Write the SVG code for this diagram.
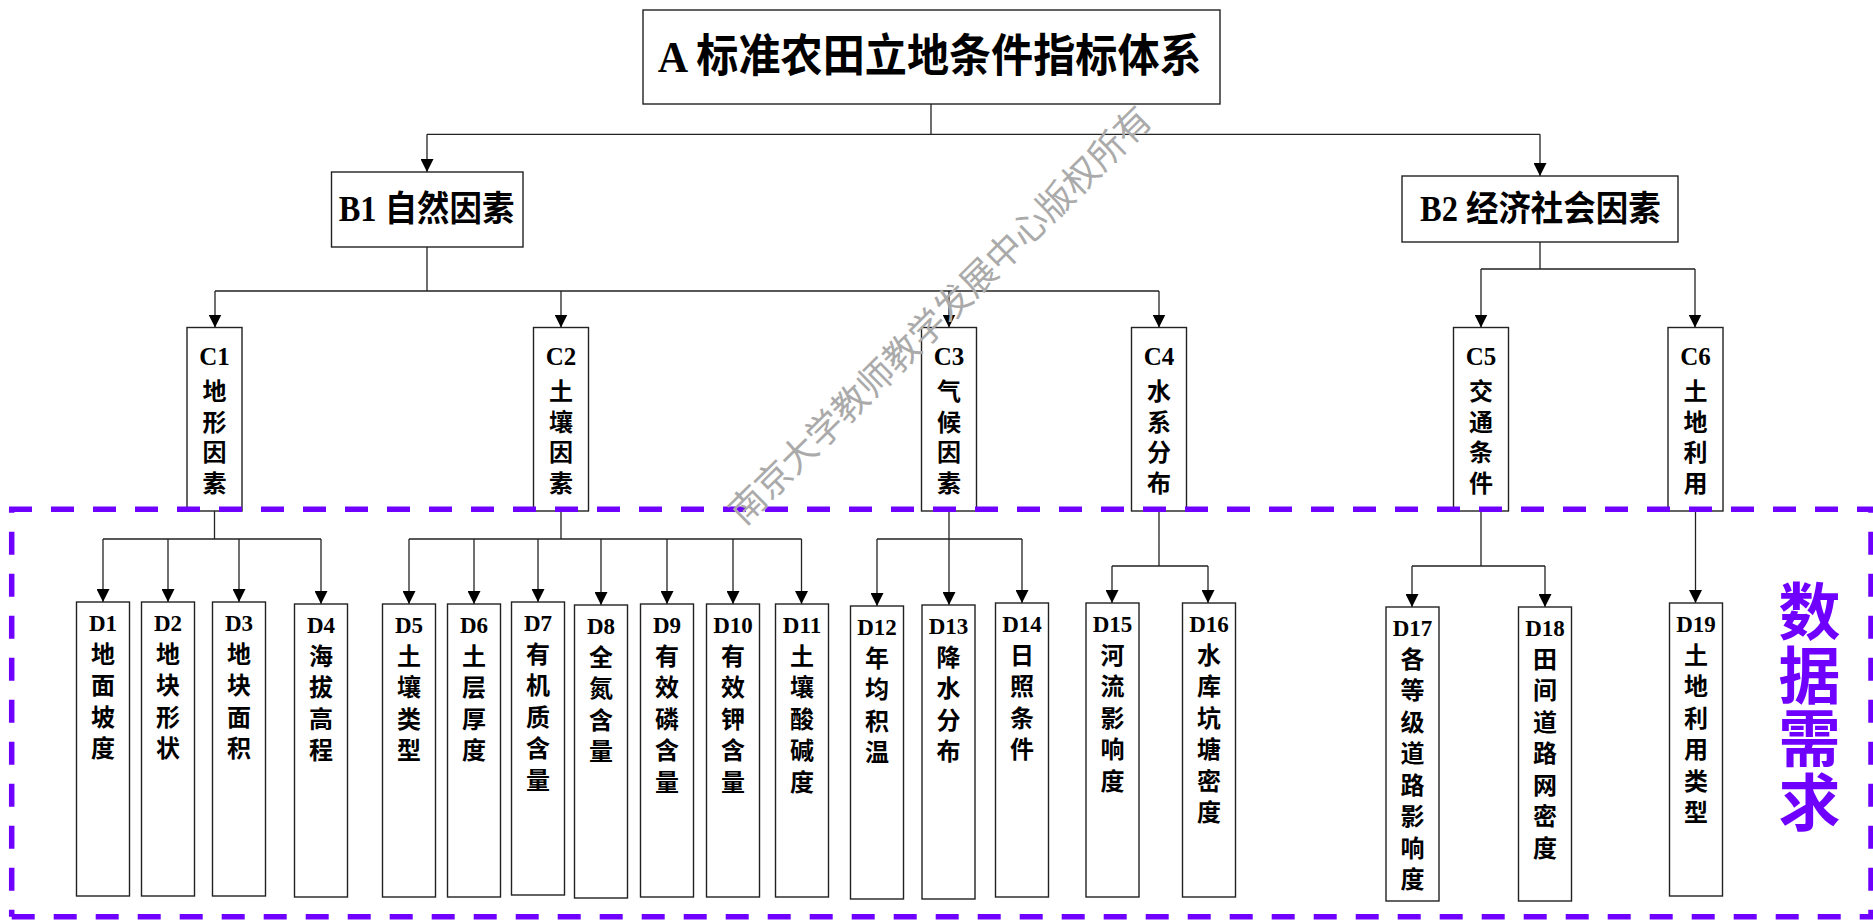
<svg xmlns="http://www.w3.org/2000/svg" width="1873" height="920" viewBox="0 0 1873 920">
<style>
.box{fill:#fff;stroke:#222;stroke-width:1.4}
.ln{fill:none;stroke:#222;stroke-width:1.3}
.ar{fill:none;stroke:#222;stroke-width:1.3;marker-end:url(#ah)}
.t{font-family:"Liberation Serif","Noto Sans CJK SC",serif;font-weight:bold;fill:#000}
.big{font-size:45px}
.mid{font-size:35px}
.cl{font-size:25px;text-anchor:middle}
.dl{font-size:23px;text-anchor:middle}
.cj{font-family:"Noto Sans CJK SC",sans-serif;font-weight:bold;font-size:24px;text-anchor:middle;fill:#000}
.dash{fill:none;stroke:#6F00FF;stroke-width:5.5;stroke-dasharray:23 19}
.req{font-family:"Noto Sans CJK SC",sans-serif;font-weight:bold;font-size:62px;fill:#6F00FF;text-anchor:middle}
.wm{font-family:"Noto Sans CJK SC",sans-serif;font-size:36px;fill:#aaaaaa;text-anchor:middle}
</style>
<defs>
<marker id="ah" markerUnits="userSpaceOnUse" markerWidth="13" markerHeight="13" viewBox="0 0 13 13" refX="13" refY="6.5" orient="auto">
<path d="M0,0 L13,6.5 L0,13 z" fill="#000"/>
</marker>
</defs>
<rect width="1873" height="920" fill="#fff"/>

<g id="connectors">
<path class="ln" d="M931,104 V134.3 M427,134.3 H1540 M427,247 V291 M215,291 H1159 M1540,242 V269 M1481,269 H1695"/>
<path class="ar" d="M427,134.3 V172"/>
<path class="ar" d="M1540,134.3 V176"/>
<path class="ar" d="M215,291 V327.5"/>
<path class="ar" d="M561,291 V327.5"/>
<path class="ar" d="M949,291 V327.5"/>
<path class="ar" d="M1159,291 V327.5"/>
<path class="ar" d="M1481,269 V327.5"/>
<path class="ar" d="M1695,269 V327.5"/>
<path class="ln" d="M214.5,511 V539 M103,539 H321 M561,511 V539 M409,539 H801.5 M949,511 V539 M877,539 H1022 M1159,511 V566 M1112,566 H1208 M1481,511 V566 M1412,566 H1545"/>
<path class="ar" d="M103,539 V602"/>
<path class="ar" d="M168,539 V602"/>
<path class="ar" d="M239,539 V602"/>
<path class="ar" d="M321,539 V604"/>
<path class="ar" d="M409,539 V604"/>
<path class="ar" d="M474,539 V604"/>
<path class="ar" d="M538,539 V602"/>
<path class="ar" d="M601,539 V605"/>
<path class="ar" d="M667,539 V604"/>
<path class="ar" d="M733,539 V604"/>
<path class="ar" d="M801.5,539 V604"/>
<path class="ar" d="M877,539 V606"/>
<path class="ar" d="M949,539 V605"/>
<path class="ar" d="M1022,539 V603"/>
<path class="ar" d="M1112,566 V603"/>
<path class="ar" d="M1208,566 V603"/>
<path class="ar" d="M1412,566 V607"/>
<path class="ar" d="M1545,566 V607"/>
<path class="ar" d="M1695.5,511 V603"/>
</g>

<g id="A">
<rect class="box" x="643" y="10" width="577" height="94"/>
<text class="t big" x="657.7" y="72" textLength="544" lengthAdjust="spacingAndGlyphs">A 标准农田立地条件指标体系</text>
</g>
<g id="B1">
<rect class="box" x="331.5" y="172" width="191.5" height="75"/>
<text class="t mid" x="338.7" y="221" textLength="175.7" lengthAdjust="spacingAndGlyphs">B1 自然因素</text>
</g>
<g id="B2">
<rect class="box" x="1402" y="176" width="276" height="66"/>
<text class="t mid" x="1420" y="221" textLength="240.6" lengthAdjust="spacingAndGlyphs">B2 经济社会因素</text>
</g>

<g id="C1"><rect class="box" x="187" y="327.5" width="55" height="183.5"/><text class="t cl" x="214.5" y="365">C1</text><text class="cj"><tspan x="214.5" y="400">地</tspan><tspan x="214.5" y="430.5">形</tspan><tspan x="214.5" y="461">因</tspan><tspan x="214.5" y="491.5">素</tspan></text></g>
<g id="C2"><rect class="box" x="533.5" y="327.5" width="55" height="183.5"/><text class="t cl" x="561" y="365">C2</text><text class="cj"><tspan x="561" y="400">土</tspan><tspan x="561" y="430.5">壤</tspan><tspan x="561" y="461">因</tspan><tspan x="561" y="491.5">素</tspan></text></g>
<g id="C3"><rect class="box" x="921.5" y="327.5" width="55" height="183.5"/><text class="t cl" x="949" y="365">C3</text><text class="cj"><tspan x="949" y="400">气</tspan><tspan x="949" y="430.5">候</tspan><tspan x="949" y="461">因</tspan><tspan x="949" y="491.5">素</tspan></text></g>
<g id="C4"><rect class="box" x="1131.5" y="327.5" width="55" height="183.5"/><text class="t cl" x="1159" y="365">C4</text><text class="cj"><tspan x="1159" y="400">水</tspan><tspan x="1159" y="430.5">系</tspan><tspan x="1159" y="461">分</tspan><tspan x="1159" y="491.5">布</tspan></text></g>
<g id="C5"><rect class="box" x="1453.5" y="327.5" width="55" height="183.5"/><text class="t cl" x="1481" y="365">C5</text><text class="cj"><tspan x="1481" y="400">交</tspan><tspan x="1481" y="430.5">通</tspan><tspan x="1481" y="461">条</tspan><tspan x="1481" y="491.5">件</tspan></text></g>
<g id="C6"><rect class="box" x="1668" y="327.5" width="55" height="183.5"/><text class="t cl" x="1695.5" y="365">C6</text><text class="cj"><tspan x="1695.5" y="400">土</tspan><tspan x="1695.5" y="430.5">地</tspan><tspan x="1695.5" y="461">利</tspan><tspan x="1695.5" y="491.5">用</tspan></text></g>

<g id="D1"><rect class="box" x="76.5" y="602" width="53" height="294"/><text class="t dl" x="103" y="630.5">D1</text><text class="cj"><tspan x="103" y="662.6">地</tspan><tspan x="103" y="694.1">面</tspan><tspan x="103" y="725.6">坡</tspan><tspan x="103" y="757.1">度</tspan></text></g>
<g id="D2"><rect class="box" x="141.5" y="602" width="53" height="294"/><text class="t dl" x="168" y="630.5">D2</text><text class="cj"><tspan x="168" y="662.6">地</tspan><tspan x="168" y="694.1">块</tspan><tspan x="168" y="725.6">形</tspan><tspan x="168" y="757.1">状</tspan></text></g>
<g id="D3"><rect class="box" x="212.5" y="602" width="53" height="294"/><text class="t dl" x="239" y="630.5">D3</text><text class="cj"><tspan x="239" y="662.6">地</tspan><tspan x="239" y="694.1">块</tspan><tspan x="239" y="725.6">面</tspan><tspan x="239" y="757.1">积</tspan></text></g>
<g id="D4"><rect class="box" x="294.5" y="604" width="53" height="293"/><text class="t dl" x="321" y="632.5">D4</text><text class="cj"><tspan x="321" y="664.6">海</tspan><tspan x="321" y="696.1">拔</tspan><tspan x="321" y="727.6">高</tspan><tspan x="321" y="759.1">程</tspan></text></g>
<g id="D5"><rect class="box" x="382.5" y="604" width="53" height="293"/><text class="t dl" x="409" y="632.5">D5</text><text class="cj"><tspan x="409" y="664.6">土</tspan><tspan x="409" y="696.1">壤</tspan><tspan x="409" y="727.6">类</tspan><tspan x="409" y="759.1">型</tspan></text></g>
<g id="D6"><rect class="box" x="447.5" y="604" width="53" height="293"/><text class="t dl" x="474" y="632.5">D6</text><text class="cj"><tspan x="474" y="664.6">土</tspan><tspan x="474" y="696.1">层</tspan><tspan x="474" y="727.6">厚</tspan><tspan x="474" y="759.1">度</tspan></text></g>
<g id="D7"><rect class="box" x="511.5" y="602" width="53" height="293"/><text class="t dl" x="538" y="630.5">D7</text><text class="cj"><tspan x="538" y="662.6">有</tspan><tspan x="538" y="694.1">机</tspan><tspan x="538" y="725.6">质</tspan><tspan x="538" y="757.1">含</tspan><tspan x="538" y="788.6">量</tspan></text></g>
<g id="D8"><rect class="box" x="574.5" y="605" width="53" height="293"/><text class="t dl" x="601" y="633.5">D8</text><text class="cj"><tspan x="601" y="665.6">全</tspan><tspan x="601" y="697.1">氮</tspan><tspan x="601" y="728.6">含</tspan><tspan x="601" y="760.1">量</tspan></text></g>
<g id="D9"><rect class="box" x="640.5" y="604" width="53" height="293"/><text class="t dl" x="667" y="632.5">D9</text><text class="cj"><tspan x="667" y="664.6">有</tspan><tspan x="667" y="696.1">效</tspan><tspan x="667" y="727.6">磷</tspan><tspan x="667" y="759.1">含</tspan><tspan x="667" y="790.6">量</tspan></text></g>
<g id="D10"><rect class="box" x="706.5" y="604" width="53" height="293"/><text class="t dl" x="733" y="632.5">D10</text><text class="cj"><tspan x="733" y="664.6">有</tspan><tspan x="733" y="696.1">效</tspan><tspan x="733" y="727.6">钾</tspan><tspan x="733" y="759.1">含</tspan><tspan x="733" y="790.6">量</tspan></text></g>
<g id="D11"><rect class="box" x="775.5" y="604" width="53" height="293"/><text class="t dl" x="802" y="632.5">D11</text><text class="cj"><tspan x="802" y="664.6">土</tspan><tspan x="802" y="696.1">壤</tspan><tspan x="802" y="727.6">酸</tspan><tspan x="802" y="759.1">碱</tspan><tspan x="802" y="790.6">度</tspan></text></g>
<g id="D12"><rect class="box" x="850.5" y="606" width="53" height="293"/><text class="t dl" x="877" y="634.5">D12</text><text class="cj"><tspan x="877" y="666.6">年</tspan><tspan x="877" y="698.1">均</tspan><tspan x="877" y="729.6">积</tspan><tspan x="877" y="761.1">温</tspan></text></g>
<g id="D13"><rect class="box" x="922" y="605" width="53" height="294"/><text class="t dl" x="948.5" y="633.5">D13</text><text class="cj"><tspan x="948.5" y="665.6">降</tspan><tspan x="948.5" y="697.1">水</tspan><tspan x="948.5" y="728.6">分</tspan><tspan x="948.5" y="760.1">布</tspan></text></g>
<g id="D14"><rect class="box" x="995.5" y="603" width="53" height="294"/><text class="t dl" x="1022" y="631.5">D14</text><text class="cj"><tspan x="1022" y="663.6">日</tspan><tspan x="1022" y="695.1">照</tspan><tspan x="1022" y="726.6">条</tspan><tspan x="1022" y="758.1">件</tspan></text></g>
<g id="D15"><rect class="box" x="1086" y="603" width="53" height="294"/><text class="t dl" x="1112.5" y="631.5">D15</text><text class="cj"><tspan x="1112.5" y="663.6">河</tspan><tspan x="1112.5" y="695.1">流</tspan><tspan x="1112.5" y="726.6">影</tspan><tspan x="1112.5" y="758.1">响</tspan><tspan x="1112.5" y="789.6">度</tspan></text></g>
<g id="D16"><rect class="box" x="1182.5" y="603" width="53" height="294"/><text class="t dl" x="1209" y="631.5">D16</text><text class="cj"><tspan x="1209" y="663.6">水</tspan><tspan x="1209" y="695.1">库</tspan><tspan x="1209" y="726.6">坑</tspan><tspan x="1209" y="758.1">塘</tspan><tspan x="1209" y="789.6">密</tspan><tspan x="1209" y="821.1">度</tspan></text></g>
<g id="D17"><rect class="box" x="1386" y="607" width="53" height="294"/><text class="t dl" x="1412.5" y="635.5">D17</text><text class="cj"><tspan x="1412.5" y="667.6">各</tspan><tspan x="1412.5" y="699.1">等</tspan><tspan x="1412.5" y="730.6">级</tspan><tspan x="1412.5" y="762.1">道</tspan><tspan x="1412.5" y="793.6">路</tspan><tspan x="1412.5" y="825.1">影</tspan><tspan x="1412.5" y="856.6">响</tspan><tspan x="1412.5" y="888.1">度</tspan></text></g>
<g id="D18"><rect class="box" x="1518.5" y="607" width="53" height="294"/><text class="t dl" x="1545" y="635.5">D18</text><text class="cj"><tspan x="1545" y="667.6">田</tspan><tspan x="1545" y="699.1">间</tspan><tspan x="1545" y="730.6">道</tspan><tspan x="1545" y="762.1">路</tspan><tspan x="1545" y="793.6">网</tspan><tspan x="1545" y="825.1">密</tspan><tspan x="1545" y="856.6">度</tspan></text></g>
<g id="D19"><rect class="box" x="1669.5" y="603" width="53" height="293"/><text class="t dl" x="1696" y="631.5">D19</text><text class="cj"><tspan x="1696" y="663.6">土</tspan><tspan x="1696" y="695.1">地</tspan><tspan x="1696" y="726.6">利</tspan><tspan x="1696" y="758.1">用</tspan><tspan x="1696" y="789.6">类</tspan><tspan x="1696" y="821.1">型</tspan></text></g>

<g id="data-requirement">
<path class="dash" d="M9,509.3 H1873"/>
<path class="dash" d="M11.7,916.7 H1873"/>
<path class="dash" d="M11.7,509.3 V916.7" style="stroke-dashoffset:19.6"/>
<path class="dash" d="M1871,509.3 V916.7" style="stroke-dashoffset:19.6"/>
<text class="req"><tspan x="1809.5" y="634.6">数</tspan><tspan x="1809.5" y="698.6">据</tspan><tspan x="1809.5" y="762">需</tspan><tspan x="1809.5" y="825.6">求</tspan></text>
</g>

<text class="wm" transform="translate(940,315) rotate(-44.6)" x="0" y="13">南京大学教师教学发展中心版权所有</text>
</svg>
